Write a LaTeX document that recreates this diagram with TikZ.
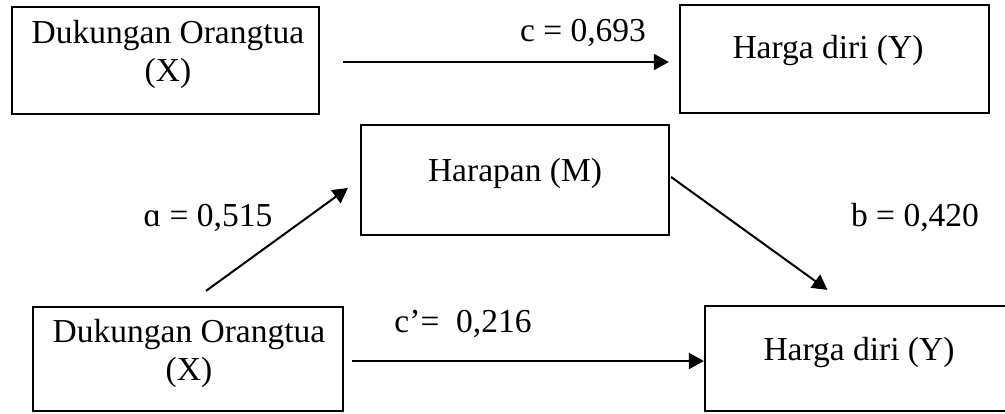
\documentclass[tikz,border=0pt]{standalone}
\usepackage{fontspec}
\setmainfont{Liberation Serif}
\usetikzlibrary{arrows.meta}
\begin{document}
\begin{tikzpicture}[x=1pt,y=-1pt,
  box/.style={draw, line width=2.2pt, inner sep=0pt},
  txt/.style={font=\fontsize{33.5}{38}\selectfont, inner sep=0pt, align=center},
  conn/.style={line width=2pt, -{Triangle[length=15pt,width=16pt]}}]
\useasboundingbox (0,0) rectangle (1005,414);
\clip (0,0) rectangle (1005,414);
% boxes
\node[box, minimum width=307pt, minimum height=107pt] (x1) at (165.5,60.5) {};
\node[box, minimum width=309pt, minimum height=108pt] (y1) at (834.5,59) {};
\node[box, minimum width=308pt, minimum height=110pt] (m) at (515,180) {};
\node[box, minimum width=310pt, minimum height=104pt] (x2) at (188,359) {};
\node[box, minimum width=307pt, minimum height=105pt] (y2) at (858.5,358.5) {};
% texts
\node[txt] (tx1) at (168,54) {Dukungan Orangtua\\(X)};
\node[txt] (ty1) at (828,50) {Harga diri (Y)};
\node[txt] (tm) at (515,173) {Harapan (M)};
\node[txt] (tx2) at (189,353) {Dukungan Orangtua\\(X)};
\node[txt] (ty2) at (859,352) {Harga diri (Y)};
% connectors
\draw[conn] ([shift={(23,1.5)}]x1.east) -- ([shift={(-10,3)}]y1.west);
\draw[conn] ([shift={(18,-15)}]x2.north) -- ([shift={(-12,8)}]m.west);
\draw[conn] ([shift={(1,-3)}]m.east) -- ([shift={(-31,-15)}]y2.north);
\draw[conn] ([shift={(8,2)}]x2.east) -- ([shift={(0,2.5)}]y2.west);
% labels
\node[txt] (lc) at (583,33) {c = 0,693};
\node[txt] (la) at (208,218) {ɑ = 0,515};
\node[txt] (lb) at (915,217) {b = 0,420};
\node[txt] (lcp) at (463,324) {c’=\ \ 0,216};
\end{tikzpicture}
\end{document}
